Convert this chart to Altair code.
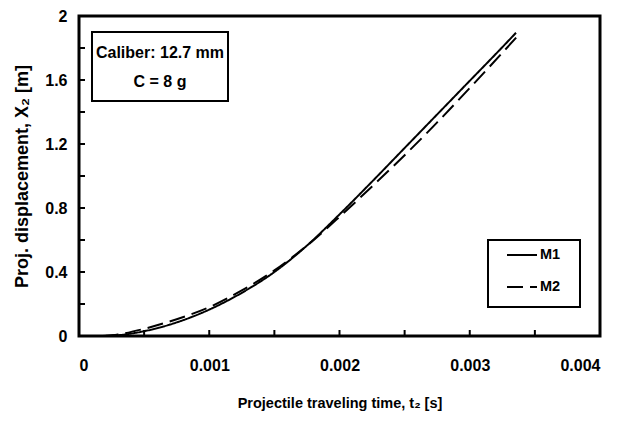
import altair as alt
import pandas as pd

# ---- data ----
t_m1 = [0.00018, 0.0003, 0.0005, 0.00075, 0.001, 0.00125, 0.0015, 0.00175,
        0.002, 0.00225, 0.0025, 0.00275, 0.003, 0.00325, 0.003355]
x_m1 = [0.0, 0.005, 0.03, 0.085, 0.165, 0.27, 0.40, 0.565,
        0.76, 0.965, 1.175, 1.385, 1.595, 1.805, 1.895]
t_m2 = [0.00018, 0.0003, 0.0005, 0.00075, 0.001, 0.00125, 0.0015, 0.00175,
        0.002, 0.00225, 0.0025, 0.00275, 0.003, 0.00325, 0.003385]
x_m2 = [0.0, 0.01, 0.045, 0.105, 0.18, 0.285, 0.41, 0.565,
        0.745, 0.935, 1.13, 1.335, 1.55, 1.77, 1.89]
series = ["M1", "M2"]
dashes = [[1, 0], [16, 7]]

x_ticks = [0, 0.001, 0.002, 0.003, 0.004]
y_ticks = [0, 0.4, 0.8, 1.2, 1.6, 2.0]
x_minor = [0.0005, 0.001, 0.0015, 0.002, 0.0025, 0.003, 0.0035]
y_minor = [0.2, 0.4, 0.6, 0.8, 1.0, 1.2, 1.4, 1.6, 1.8]

annot_lines = ["Caliber: 12.7 mm", "C = 8 g"]

FONT = "Liberation Sans"
W, H = 521, 320
TOP = 8

df = pd.concat([
    pd.DataFrame({"t": t_m1, "x": x_m1, "model": series[0]}),
    pd.DataFrame({"t": t_m2, "x": x_m2, "model": series[1]}),
])

xscale = alt.Scale(domain=[0, 0.004], nice=False, zero=False)
yscale = alt.Scale(domain=[0, 2], nice=False, zero=False)

xaxis = alt.Axis(values=x_ticks, format=".3~f", ticks=False, grid=False, domain=False,
                 labelFont=FONT, labelFontSize=16, labelFontWeight="bold",
                 labelColor="black", labelPadding=21,
                 title="Projectile traveling time, t₂ [s]",
                 titleFont=FONT, titleFontSize=14.5, titleFontWeight="bold",
                 titleColor="black", titleY=67, titleBaseline="middle")
yaxis = alt.Axis(values=y_ticks, format=".1~f", ticks=False, grid=False, domain=False,
                 labelFont=FONT, labelFontSize=16, labelFontWeight="bold",
                 labelColor="black", labelPadding=12,
                 title="Proj. displacement, X₂ [m]",
                 titleFont=FONT, titleFontSize=18, titleFontWeight="bold",
                 titleColor="black", titleX=-57, titleY=H / 2,
                 titleBaseline="middle", titleAlign="center", titleAngle=270)

lines = alt.Chart(df).mark_line(color="black", strokeWidth=2, interpolate="monotone").encode(
    x=alt.X("t:Q", scale=xscale, axis=xaxis),
    y=alt.Y("x:Q", scale=yscale, axis=yaxis),
    strokeDash=alt.StrokeDash("model:N", scale=alt.Scale(domain=series, range=dashes), legend=None),
    detail="model:N",
)

ytick_layer = alt.Chart(pd.DataFrame({"x": y_minor})).mark_rule(color="black", strokeWidth=2).encode(
    y=alt.Y("x:Q", scale=yscale, axis=yaxis),
    x=alt.value(0), x2=alt.value(6),
)
xtick_layer = alt.Chart(pd.DataFrame({"t": x_minor})).mark_rule(color="black", strokeWidth=2).encode(
    x=alt.X("t:Q", scale=xscale, axis=xaxis),
    y=alt.value(H), y2=alt.value(H - 6),
)

# annotation box
annot_df = pd.DataFrame({"txt": annot_lines, "i": [0, 1]})
annot_box = alt.Chart(pd.DataFrame({"a": [0]})).mark_rect(
    fill="white", stroke="black", strokeWidth=2).encode(
    x=alt.value(13), x2=alt.value(149), y=alt.value(16), y2=alt.value(85))
annot_t1 = alt.Chart(annot_df.iloc[[0]]).mark_text(
    font=FONT, fontSize=16, fontWeight="bold", color="black", align="center", baseline="middle").encode(
    text="txt:N", x=alt.value(81), y=alt.value(37))
annot_t2 = alt.Chart(annot_df.iloc[[1]]).mark_text(
    font=FONT, fontSize=16, fontWeight="bold", color="black", align="center", baseline="middle").encode(
    text="txt:N", x=alt.value(81), y=alt.value(66))

# legend (drawn)
leg_box = alt.Chart(pd.DataFrame({"a": [0]})).mark_rect(
    fill="white", stroke="black", strokeWidth=2).encode(
    x=alt.value(409), x2=alt.value(501), y=alt.value(224), y2=alt.value(291))
leg_layers = [leg_box]
for i, (s, d) in enumerate(zip(series, dashes)):
    yy = 239 + 32 * i
    sdf = pd.DataFrame({"model": [s]})
    leg_layers.append(alt.Chart(sdf).mark_rule(color="black", strokeWidth=2, strokeDash=d).encode(
        x=alt.value(428), x2=alt.value(458), y=alt.value(yy)))
    leg_layers.append(alt.Chart(sdf).mark_text(
        font=FONT, fontSize=14.5, fontWeight="bold", color="black", align="left", baseline="middle").encode(
        text="model:N", x=alt.value(461), y=alt.value(yy)))

chart = alt.layer(
    lines, ytick_layer, xtick_layer, annot_box, annot_t1, annot_t2, *leg_layers
).properties(
    width=W, height=H,
    background="white",
    autosize=alt.AutoSizeParams(type="none"),
    padding={"left": 71, "top": TOP, "right": 29, "bottom": 409 - TOP - H},
).configure_view(stroke="black", strokeWidth=3)

chart.save("out.html", embed_options={"renderer": "svg", "actions": False})
